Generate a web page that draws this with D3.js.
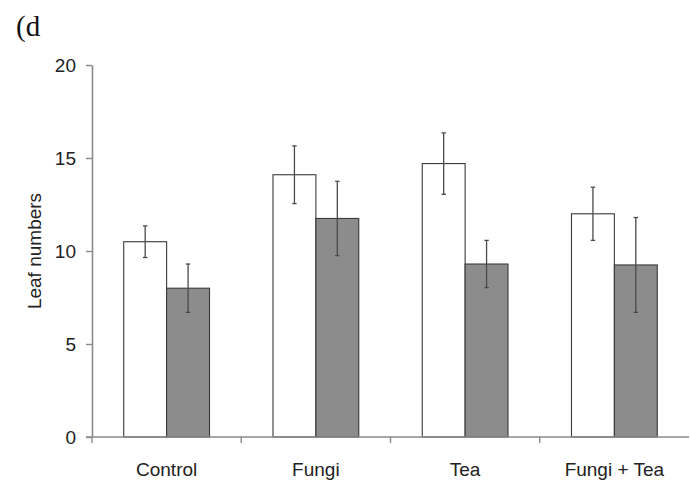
<!DOCTYPE html>
<html>
<head>
<meta charset="utf-8">
<script src="https://cdn.jsdelivr.net/npm/d3@7"></script>
<style>
  body { margin: 0; background: #fff; }
  svg { display: block; }
</style>
</head>
<body>
<div id="chart"></div>
<script>
const categories = ["Control", "Fungi", "Tea", "Fungi + Tea"];
const series = ["open", "filled"];
const openMeans = [10.5, 14.1, 14.7, 12.0];
const openErr = [0.85, 1.55, 1.65, 1.43];
const filledMeans = [8.0, 11.75, 9.3, 9.25];
const filledErr = [1.3, 2.0, 1.27, 2.55];
const yTicks = [0, 5, 10, 15, 20];

const width = 690, height = 484;
const margin = { top: 65, right: 1, bottom: 47, left: 92 };

const rows = [];
categories.forEach((c, i) => {
  rows.push({ cat: c, s: "open", v: openMeans[i], e: openErr[i] });
  rows.push({ cat: c, s: "filled", v: filledMeans[i], e: filledErr[i] });
});

const svg = d3.select("#chart")
  .append("svg")
  .attr("width", width)
  .attr("height", height);

const x0 = d3.scaleBand()
  .domain(categories)
  .range([margin.left, width - margin.right])
  .padding(0);

const x1 = d3.scaleBand()
  .domain(series)
  .range([0, x0.bandwidth()])
  .paddingInner(0)
  .paddingOuter(0.74);

const y = d3.scaleLinear()
  .domain([0, 20])
  .range([height - margin.bottom, margin.top]);

const fill = { open: "#ffffff", filled: "#8c8c8c" };

// bars
svg.append("g")
  .selectAll("rect")
  .data(rows)
  .join("rect")
  .attr("x", d => x0(d.cat) + x1(d.s))
  .attr("y", d => y(d.v))
  .attr("width", x1.bandwidth())
  .attr("height", d => y(0) - y(d.v))
  .attr("fill", d => fill[d.s])
  .attr("stroke", "#3a3a3a")
  .attr("stroke-width", 1.1);

// error bars
const eg = svg.append("g")
  .attr("stroke", "#4a4a4a")
  .attr("stroke-width", 1.3);

const cx = d => x0(d.cat) + x1(d.s) + x1.bandwidth() / 2;

eg.selectAll("line.v")
  .data(rows)
  .join("line")
  .attr("class", "v")
  .attr("x1", cx).attr("x2", cx)
  .attr("y1", d => y(d.v + d.e))
  .attr("y2", d => y(d.v - d.e));

eg.selectAll("line.t")
  .data(rows)
  .join("line")
  .attr("class", "t")
  .attr("x1", d => cx(d) - 2.2).attr("x2", d => cx(d) + 2.2)
  .attr("y1", d => y(d.v + d.e)).attr("y2", d => y(d.v + d.e));

eg.selectAll("line.b")
  .data(rows)
  .join("line")
  .attr("class", "b")
  .attr("x1", d => cx(d) - 2.2).attr("x2", d => cx(d) + 2.2)
  .attr("y1", d => y(d.v - d.e)).attr("y2", d => y(d.v - d.e));

// y axis
const yAxis = svg.append("g")
  .attr("transform", `translate(${margin.left},0)`)
  .call(d3.axisLeft(y).tickValues(yTicks).tickSize(6).tickSizeOuter(0).tickPadding(10));

yAxis.select(".domain").attr("stroke", "#8a8a8a").attr("stroke-width", 1.6);
yAxis.selectAll(".tick line").attr("stroke", "#8a8a8a").attr("stroke-width", 1.4);
yAxis.selectAll(".tick text")
  .attr("fill", "#222")
  .style("font-family", "'Liberation Sans', Arial, sans-serif")
  .style("font-size", "19px");

// x axis: ticks at category boundaries
const bounds = categories.map(c => x0(c)).concat([x0.range()[1]]);
const xg = svg.append("g");
xg.append("line")
  .attr("x1", margin.left - 6).attr("x2", x0.range()[1])
  .attr("y1", y(0)).attr("y2", y(0))
  .attr("stroke", "#8a8a8a").attr("stroke-width", 1.6);
xg.selectAll("line.tk")
  .data(bounds.slice(0, 4))
  .join("line")
  .attr("class", "tk")
  .attr("x1", d => d).attr("x2", d => d)
  .attr("y1", y(0)).attr("y2", y(0) + 6)
  .attr("stroke", "#8a8a8a").attr("stroke-width", 1.4);

xg.selectAll("text")
  .data(categories)
  .join("text")
  .attr("x", d => x0(d) + x0.bandwidth() / 2)
  .attr("y", 476)
  .attr("text-anchor", "middle")
  .attr("fill", "#222")
  .style("font-family", "'Liberation Sans', Arial, sans-serif")
  .style("font-size", "19px")
  .text(d => d);

// y label
svg.append("text")
  .attr("transform", `translate(41,${(y(0) + y(20)) / 2})rotate(-90)`)
  .attr("text-anchor", "middle")
  .attr("fill", "#222")
  .style("font-family", "'Liberation Sans', Arial, sans-serif")
  .style("font-size", "19px")
  .text("Leaf numbers");

// panel letter
svg.append("text")
  .attr("x", 16)
  .attr("y", 36)
  .attr("fill", "#111")
  .style("font-family", "'Liberation Serif', 'DejaVu Serif', serif")
  .style("font-size", "29px")
  .text("(d");
</script>
</body>
</html>
